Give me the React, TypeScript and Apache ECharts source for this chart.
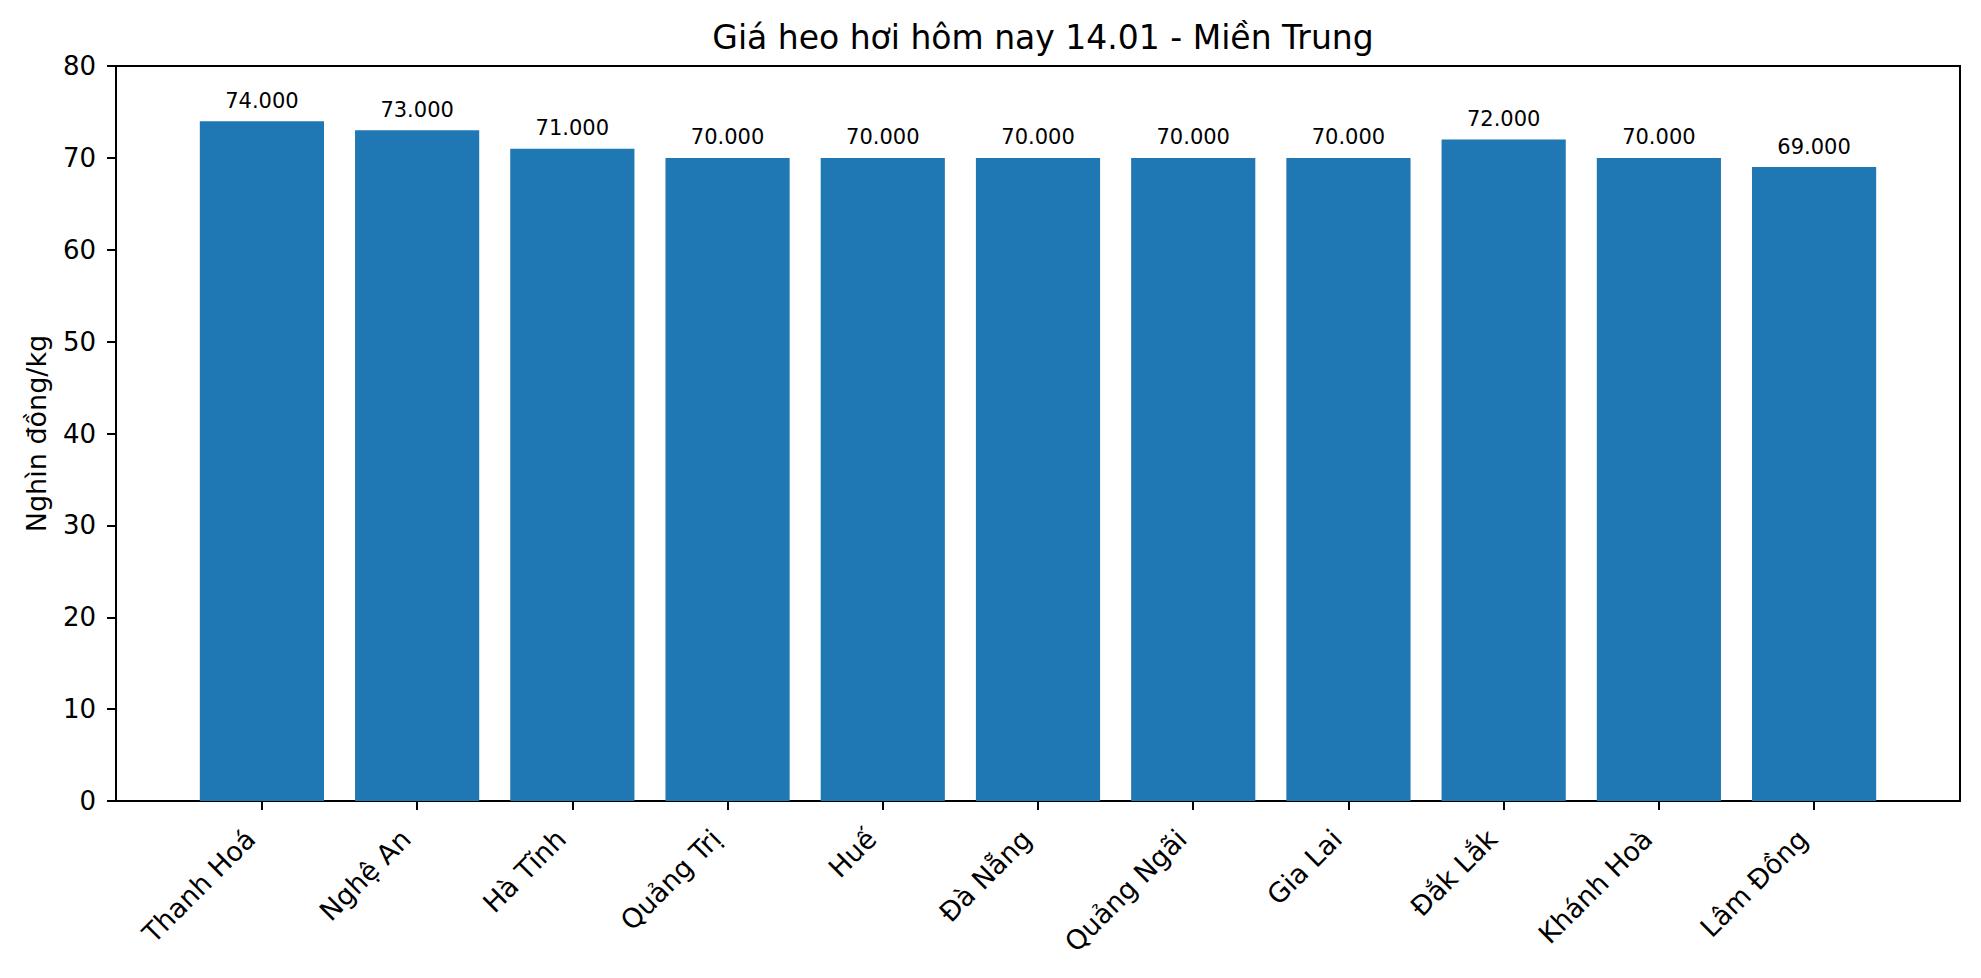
import { useRef, useEffect } from 'react'
import * as echarts from 'echarts'

const provinces = [
  'Thanh Hoá', 'Nghệ An', 'Hà Tĩnh', 'Quảng Trị', 'Huế', 'Đà Nẵng',
  'Quảng Ngãi', 'Gia Lai', 'Đắk Lắk', 'Khánh Hoà', 'Lâm Đồng',
]
const prices = [74, 73, 71, 70, 70, 70, 70, 70, 72, 70, 69]
const yTicks = { min: 0, max: 80, interval: 10 }

const W = 1981
const H = 978
// frame of the axes (matplotlib-like)
const FRAME = { left: 116, right: 1960, top: 66, bottom: 801 }
// matplotlib pads the category range by 5% on both sides
const span = provinces.length - 1 + 0.8
const unit = (FRAME.right - FRAME.left) / (span * 1.1)
const inset = (FRAME.right - FRAME.left - unit * provinces.length) / 2

const FONT = 'DejaVu Sans'

export default function App() {
  const chartRef = useRef<HTMLDivElement>(null)

  useEffect(() => {
    if (!chartRef.current) return
    const chart = echarts.init(chartRef.current, null, { renderer: 'svg' })
    chart.setOption({
      animation: false,
      backgroundColor: '#fff',
      textStyle: { fontFamily: FONT },
      title: {
        text: 'Giá heo hơi hôm nay 14.01 - Miền Trung',
        left: (FRAME.left + FRAME.right) / 2,
        textAlign: 'center',
        top: 16,
        textStyle: { fontFamily: FONT, fontSize: 33, fontWeight: 'normal', color: '#000' },
      },
      grid: [
        {
          left: FRAME.left,
          right: W - FRAME.right,
          top: FRAME.top,
          bottom: H - FRAME.bottom,
          show: true,
          borderColor: '#000',
          borderWidth: 2,
          backgroundColor: 'transparent',
        },
        {
          left: FRAME.left + inset,
          right: W - FRAME.right + inset,
          top: FRAME.top,
          bottom: H - FRAME.bottom,
        },
      ],
      xAxis: [
        { type: 'value', gridIndex: 0, min: 0, max: 1, show: false },
        {
          type: 'category',
          gridIndex: 1,
          data: provinces,
          axisLine: { show: true, lineStyle: { color: '#000', width: 2 } },
          axisTick: { show: true, alignWithLabel: true, length: 9, lineStyle: { color: '#000', width: 2 } },
          axisLabel: {
            rotate: 45,
            interval: 0,
            margin: 22,
            padding: [0, 16, 0, 0],
            fontSize: 27,
            fontFamily: FONT,
            color: '#000',
          },
        },
      ],
      yAxis: [
        {
          type: 'value',
          gridIndex: 0,
          ...yTicks,
          name: 'Nghìn đồng/kg',
          nameLocation: 'middle',
          nameGap: 66,
          nameTextStyle: { fontFamily: FONT, fontSize: 27, color: '#000' },
          axisLine: { show: true, lineStyle: { color: '#000', width: 2 } },
          axisTick: { show: true, length: 9, lineStyle: { color: '#000', width: 2 } },
          axisLabel: { margin: 20, fontSize: 26, fontFamily: FONT, color: '#000' },
          splitLine: { show: false },
        },
        { type: 'value', gridIndex: 1, ...yTicks, show: false },
      ],
      series: [
        {
          type: 'bar',
          xAxisIndex: 1,
          yAxisIndex: 1,
          data: prices,
          barCategoryGap: '20%',
          itemStyle: { color: '#1f77b4' },
          label: {
            show: true,
            position: 'top',
            distance: 10,
            fontFamily: FONT,
            fontSize: 21,
            color: '#000',
            formatter: (p: any) => Number(p.value).toFixed(3),
          },
        },
      ],
    })
    return () => chart.dispose()
  }, [])

  return (
    <div
      ref={chartRef}
      style={{ position: 'absolute', left: 0, top: 0, width: W, height: H }}
    />
  )
}
